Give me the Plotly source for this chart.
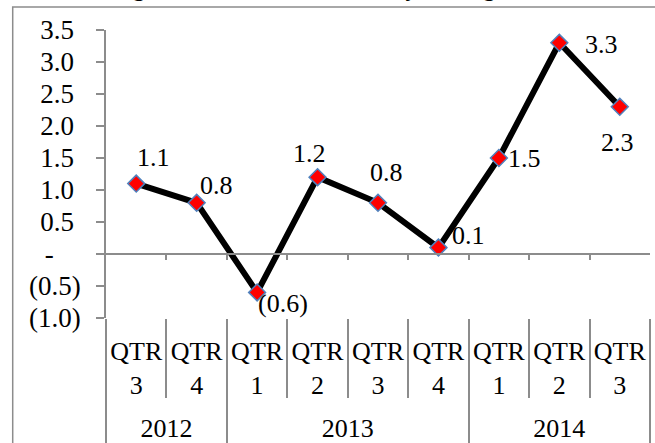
import plotly.graph_objects as go

years = ['2012', '2012', '2013', '2013', '2013', '2013', '2014', '2014', '2014']
quarters = ['3', '4', '1', '2', '3', '4', '1', '2', '3']
growth = [1.1, 0.8, -0.6, 1.2, 0.8, 0.1, 1.5, 3.3, 2.3]
y_ticks = [-1.0, -0.5, 0.0, 0.5, 1.0, 1.5, 2.0, 2.5, 3.0, 3.5]
title_text = "Nigeria's Real GDP Quarterly Average Growth"


def acct(v, pad=True):
    # excel accounting style: (0.5), -, 1.5
    sp = '\u00a0'
    if v < 0:
        return '(%.1f)' % abs(v)
    if v == 0:
        return '-' + sp * 4 if pad else '-'
    return '%.1f' % v + (sp if pad else '')


idx = list(range(len(growth)))
qtr_edges = [i + 0.5 for i in idx[:-1]]
year_edges = [-0.5]
year_mid = []
year_names = []
start = 0
for i in idx[1:] + [len(idx)]:
    if i == len(idx) or years[i] != years[start]:
        year_edges.append(i - 0.5)
        year_mid.append((start + i - 1) / 2)
        year_names.append(years[start])
        start = i

# data label nudges in px (excel labels were dragged around a bit)
label_dx = [17, 20, 26, -8, 8, 30, 26, 42, -2]
label_dy = [26, 17, -11, 24, 30, 12, 0, -2, -36]

FONT = 'Liberation Serif'
GREY = '#8c8c8c'
xr = [-0.5, len(idx) - 0.5]

fig = go.Figure(go.Scatter(
    x=idx, y=growth,
    mode='lines+markers',
    line=dict(color='black', width=6),
    marker=dict(symbol='diamond', size=13, color='#ff0000',
                line=dict(color='#4f81bd', width=1.5)),
    cliponaxis=False,
    hoverinfo='y',
))

for i, v in enumerate(growth):
    fig.add_annotation(x=idx[i], y=v, text=acct(v, pad=False), showarrow=False,
                       xshift=label_dx[i], yshift=label_dy[i],
                       font=dict(family=FONT, size=26, color='black'))

fig.update_layout(
    width=655, height=443,
    margin=dict(l=106, r=5, t=30, b=125, autoexpand=False),
    paper_bgcolor='white', plot_bgcolor='white',
    showlegend=False,
    font=dict(family=FONT, size=26, color='black'),
    xaxis=dict(
        range=xr, showgrid=False, zeroline=False, showline=False,
        tickmode='array', tickvals=idx,
        ticktext=['QTR<br>' + q for q in quarters],
        ticks='', ticklabelstandoff=15,
        minor=dict(tickmode='array', tickvals=qtr_edges, ticks='outside',
                   ticklen=79, tickwidth=1.5, tickcolor=GREY),
    ),
    xaxis2=dict(
        overlaying='x', anchor='y', side='bottom',
        range=xr, showgrid=False, zeroline=False, showline=False,
        tickmode='array', tickvals=year_mid, ticktext=year_names,
        ticks='', ticklabelstandoff=92,
        minor=dict(tickmode='array', tickvals=year_edges, ticks='outside',
                   ticklen=130, tickwidth=1.5, tickcolor=GREY),
    ),
    xaxis3=dict(
        overlaying='x', anchor='free',
        position=(0 - y_ticks[0]) / (y_ticks[-1] - y_ticks[0]),
        range=xr, showgrid=False, zeroline=False, showline=True,
        linecolor=GREY, linewidth=1.5,
        tickmode='array', tickvals=qtr_edges, ticktext=['' for _ in qtr_edges],
        ticks='outside', ticklen=5, tickwidth=1.5, tickcolor=GREY,
    ),
    yaxis=dict(
        range=[y_ticks[0], y_ticks[-1]], showgrid=False, zeroline=False,
        showline=True, linecolor=GREY, linewidth=1.5,
        tickmode='array', tickvals=y_ticks, ticktext=[acct(v) for v in y_ticks],
        tickfont=dict(size=27),
        ticks='outside', ticklen=8, tickwidth=1.5, tickcolor=GREY,
        ticklabelstandoff=10,
    ),
)

# keep the extra axes drawn even though they carry no trace
for ax in ['x2', 'x3']:
    fig.add_trace(go.Scatter(x=[None], y=[None], xaxis=ax, yaxis='y',
                             showlegend=False, hoverinfo='skip'))

# outer frame of the chart object (right/bottom run off the page)
fig.add_shape(type='rect', xref='paper', yref='paper',
              x0=-0.1715, x1=1.05, y0=-0.6, y1=1.08,
              line=dict(color=GREY, width=1.5), layer='below')

# title, mostly cut off at the top of the page
fig.add_annotation(text='<b>' + title_text + '</b>', xref='paper', yref='paper',
                   x=0.4485, y=1.146, yanchor='middle', showarrow=False,
                   font=dict(family=FONT, size=24, color='black'))

fig.write_html('out.html', config={'displayModeBar': False},
               post_script="document.body.style.margin='0';")
